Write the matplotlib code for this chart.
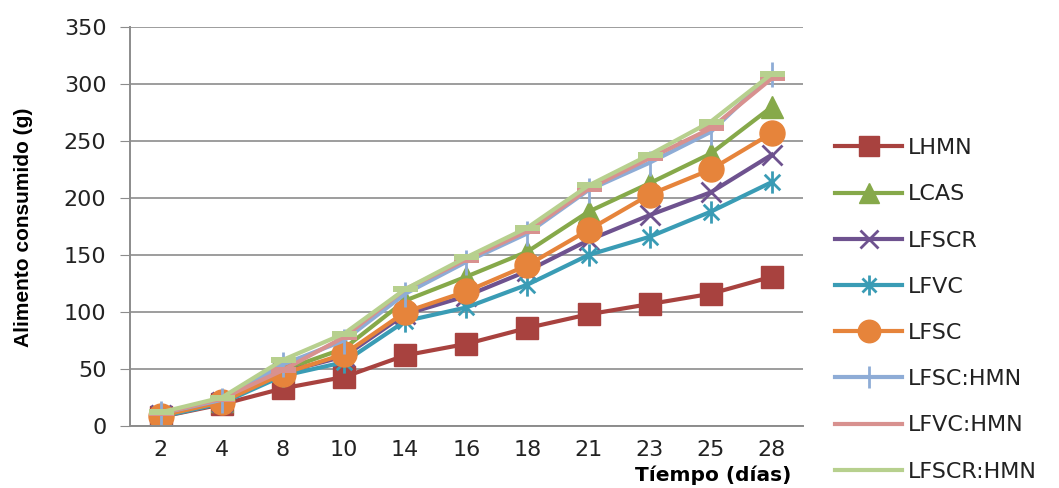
import numpy as np
import matplotlib
matplotlib.use("Agg")
import matplotlib.pyplot as plt
from matplotlib.path import Path

# feeding days and cumulative food intake (g) per treatment
dias = ["2", "4", "8", "10", "14", "16", "18", "21", "23", "25", "28"]

lhmn = [8, 19, 33, 43, 62, 72, 86, 98, 107, 116, 131]
lcas = [10, 22, 49, 68, 110, 131, 153, 188, 213, 239, 280]
lfscr = [10, 21, 47, 61, 98, 114, 136, 163, 185, 205, 238]
lfvc = [8, 20, 44, 56, 92, 104, 124, 150, 166, 188, 214]
lfsc = [9, 21, 46, 63, 100, 118, 141, 172, 203, 225, 257]
lfsc_hmn = [11, 23, 54, 75, 116, 144, 169, 207, 231, 258, 309]
lfvc_hmn = [11, 24, 49, 78, 120, 146, 171, 208, 235, 261, 305]
lfscr_hmn = [12, 25, 58, 81, 120, 148, 174, 211, 238, 267, 309]

# excel-style asterisk: vertical bar plus an X
asterisk = Path(
    [(0, -1), (0, 1), (-0.7, -0.7), (0.7, 0.7), (-0.7, 0.7), (0.7, -0.7)],
    [Path.MOVETO, Path.LINETO, Path.MOVETO, Path.LINETO, Path.MOVETO, Path.LINETO],
)
# wide flat dash
dash = [(-1, -0.22), (1, -0.22), (1, 0.22), (-1, 0.22)]

series = [
    ("LHMN", lhmn, "#A8423F", dict(marker="s", ms=16)),
    ("LCAS", lcas, "#86A94A", dict(marker="^", ms=16)),
    ("LFSCR", lfscr, "#6E528F", dict(marker="x", ms=14, mew=2)),
    ("LFVC", lfvc, "#3A9CB5", dict(marker=asterisk, ms=16, mew=2)),
    ("LFSC", lfsc, "#E6843B", dict(marker="o", ms=18)),
    ("LFSC:HMN", lfsc_hmn, "#8EACD6", dict(marker="|", ms=18, mew=2)),
    ("LFVC:HMN", lfvc_hmn, "#D8918F", dict(marker=dash, ms=18, mew=0)),
    ("LFSCR:HMN", lfscr_hmn, "#B7D08E", dict(marker=dash, ms=18, mew=0)),
]

fig = plt.figure(figsize=(10.59, 4.88), dpi=100)
ax = fig.add_axes([0.1228, 0.127, 0.635, 0.8177])

x = np.arange(len(dias))
for name, vals, color, mk in series:
    ax.plot(x, vals, color=color, lw=3, label=name,
            markerfacecolor=color, markeredgecolor=color, **mk)

ax.set_xlim(-0.5, len(dias) - 0.5)
ax.set_ylim(0, 350)
ax.set_yticks(np.arange(0, 351, 50))
ax.set_xticks(x)
ax.set_xticklabels(dias)

ax.grid(axis="y", color="#8c8c8c", lw=1.2)
ax.set_axisbelow(True)
for s in ["top", "right"]:
    ax.spines[s].set_visible(False)
for s in ["left", "bottom"]:
    ax.spines[s].set_color("#8c8c8c")
    ax.spines[s].set_linewidth(1.4)

ax.tick_params(axis="y", length=7, color="#8c8c8c", pad=10, labelsize=16)
ax.tick_params(axis="x", length=0, pad=10, labelsize=16)
for lab in ax.get_xticklabels() + ax.get_yticklabels():
    lab.set_fontfamily("DejaVu Sans")
    lab.set_color("#222222")

fig.text(0.022, 0.535, "Alimento consumido (g)", rotation=90, ha="center",
         va="center", fontsize=15, fontweight="bold",
         family=["Liberation Sans Narrow", "Liberation Sans"])
fig.text(0.673, 0.006, "Tíempo (días)", ha="center", va="bottom",
         fontsize=14.5, fontweight="bold", family="DejaVu Sans")

leg = fig.legend(loc="upper left", bbox_to_anchor=(0.770, 0.758), frameon=False,
                 prop=dict(family="DejaVu Sans", size=16), handlelength=3.0,
                 handletextpad=0.25, labelspacing=1.18, markerscale=0.9)
for t in leg.get_texts():
    t.set_color("#222222")

fig.savefig("out.png", dpi=100)
